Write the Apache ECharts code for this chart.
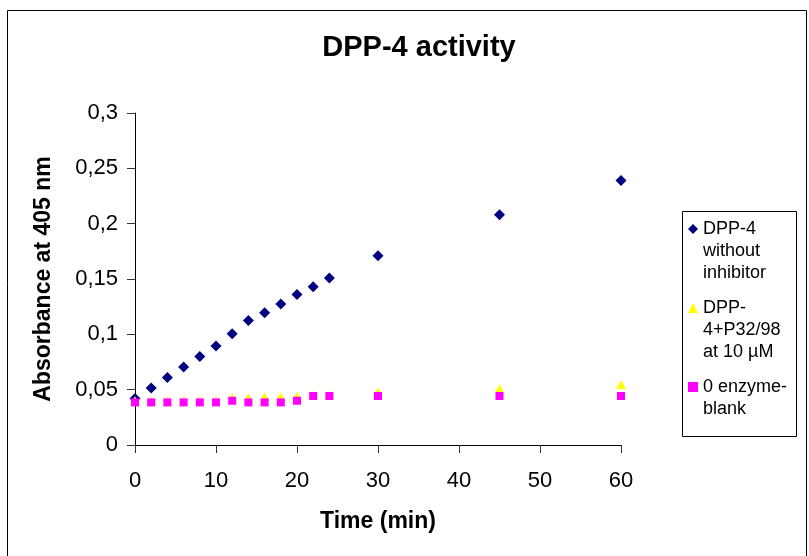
<!DOCTYPE html>
<html>
<head>
<meta charset="utf-8">
<script src="https://cdn.jsdelivr.net/npm/echarts@6/dist/echarts.min.js"></script>
<style>
  html, body { margin: 0; padding: 0; background: #fff; }
  #chart { width: 809px; height: 556px; }
</style>
</head>
<body>
<div id="chart"></div>
<script>
// time points (min)
const time = [0, 2, 4, 6, 8, 10, 12, 14, 16, 18, 20, 22, 24, 30, 45, 60]
// absorbance at 405 nm
const dppNoInhibitor = [0.042, 0.0515, 0.061, 0.0705, 0.08, 0.0895, 0.1005, 0.1125, 0.1195, 0.1275, 0.136, 0.143, 0.151, 0.171, 0.208, 0.239]
const dppP3298 = [0.040, 0.040, 0.040, 0.040, 0.040, 0.040, 0.0427, 0.0427, 0.0436, 0.0436, 0.044, 0.045, 0.045, 0.048, 0.0508, 0.0547]
const blank = [0.0385, 0.0385, 0.0385, 0.0385, 0.0385, 0.0385, 0.040, 0.0385, 0.0385, 0.0385, 0.040, 0.0443, 0.0443, 0.0443, 0.0443, 0.0443]

const seriesNames = ['DPP-4 without inhibitor', 'DPP-4+P32/98 at 10 µM', '0 enzyme-blank']
// legend text is wrapped by hand like the original box
const legendLines = {
  'DPP-4 without inhibitor': ['DPP-4', 'without', 'inhibitor'],
  'DPP-4+P32/98 at 10 µM': ['DPP-', '4+P32/98', 'at 10 µM'],
  '0 enzyme-blank': ['0 enzyme-', 'blank', ''],
}

const font = "'Liberation Sans', Arial, sans-serif"

function pairs(xs, ys) {
  return xs.map((x, i) => [x, ys[i]])
}

const option = {
  animation: false,
  textStyle: { fontFamily: font },
  title: {
    text: 'DPP-4 activity',
    left: 419,
    top: 48,
    textAlign: 'center',
    textVerticalAlign: 'middle',
    padding: 0,
    textStyle: { fontFamily: font, fontSize: 29, fontWeight: 'bold', color: '#000' },
  },
  grid: { left: 135, top: 113, width: 486, height: 332 },
  legend: {
    orient: 'vertical',
    left: 688,
    top: 174,
    padding: 0,
    itemGap: -31,
    itemWidth: 10,
    itemHeight: 10,
    data: seriesNames,
    // two empty lines on top keep the marker level with the first text line
    formatter: name => '\n\n' + legendLines[name].join('\n'),
    textStyle: { fontFamily: font, fontSize: 18, lineHeight: 22, color: '#000' },
  },
  xAxis: {
    type: 'value',
    min: 0,
    max: 60,
    interval: 10,
    name: 'Time (min)',
    nameLocation: 'middle',
    nameGap: 65,
    nameTextStyle: { fontFamily: font, fontSize: 23, fontWeight: 'bold', color: '#000' },
    splitLine: { show: false },
    axisLine: { lineStyle: { color: '#000', width: 1 } },
    axisTick: { length: 8, lineStyle: { color: '#333' } },
    axisLabel: { margin: 25, fontFamily: font, fontSize: 22, color: '#000' },
  },
  yAxis: {
    type: 'value',
    min: 0,
    max: 0.3,
    interval: 0.05,
    name: 'Absorbance at 405 nm',
    nameLocation: 'middle',
    nameRotate: 90,
    nameGap: 80,
    nameTextStyle: { fontFamily: font, fontSize: 23, fontWeight: 'bold', color: '#000' },
    splitLine: { show: false },
    axisLine: { show: true, lineStyle: { color: '#000', width: 1 } },
    axisTick: { show: true, length: 8, lineStyle: { color: '#333' } },
    axisLabel: {
      margin: 17,
      fontFamily: font,
      fontSize: 22,
      color: '#000',
      formatter: v => String(Number(v.toFixed(2))).replace('.', ','),
    },
  },
  graphic: [
    // outer chart frame
    {
      type: 'rect',
      shape: { x: 7.5, y: 10.5, width: 799, height: 560 },
      style: { fill: 'none', stroke: '#000', lineWidth: 1 },
      silent: true,
    },
    // legend frame
    {
      type: 'rect',
      shape: { x: 682.5, y: 211.5, width: 114, height: 225 },
      style: { fill: 'none', stroke: '#000', lineWidth: 1 },
      silent: true,
    },
  ],
  series: [
    {
      name: seriesNames[0],
      type: 'scatter',
      symbol: 'diamond',
      symbolSize: 11,
      itemStyle: { color: '#000080', opacity: 1 },
      data: pairs(time, dppNoInhibitor),
    },
    {
      name: seriesNames[1],
      type: 'scatter',
      symbol: 'triangle',
      symbolSize: [10, 9],
      itemStyle: { color: '#FFFF00', opacity: 1 },
      data: pairs(time, dppP3298),
    },
    {
      name: seriesNames[2],
      type: 'scatter',
      symbol: 'rect',
      symbolSize: 8,
      itemStyle: { color: '#FF00FF', opacity: 1 },
      data: pairs(time, blank),
    },
  ],
}

const chart = echarts.init(document.getElementById('chart'))
chart.setOption(option)
</script>
</body>
</html>
